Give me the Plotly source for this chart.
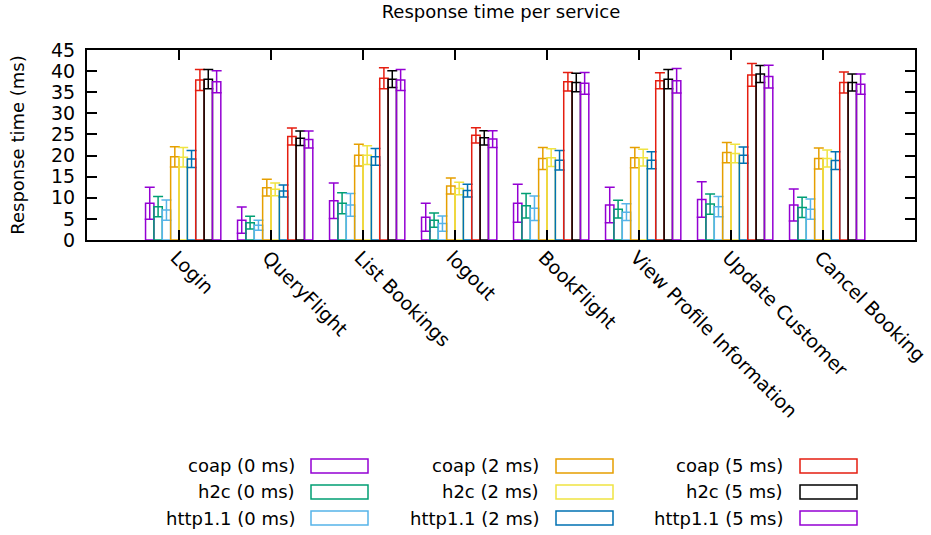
import plotly.graph_objects as go

services = ["Login", "QueryFlight", "List Bookings", "logout", "BookFlight",
            "View Profile Information", "Update Customer", "Cancel Booking"]

series_names = ["coap (0 ms)", "h2c (0 ms)", "http1.1 (0 ms)",
                "coap (2 ms)", "h2c (2 ms)", "http1.1 (2 ms)",
                "coap (5 ms)", "h2c (5 ms)", "http1.1 (5 ms)"]

# mean response time (ms) per service
coap_0 = [8.7, 4.7, 9.3, 5.4, 8.7, 8.3, 9.6, 8.3]
h2c_0 = [7.9, 4.1, 8.7, 4.7, 8.1, 7.3, 8.5, 7.7]
http_0 = [7.1, 3.5, 8.3, 3.9, 7.5, 6.6, 7.9, 7.3]
coap_2 = [19.7, 12.4, 20.1, 12.8, 19.3, 19.5, 20.7, 19.3]
h2c_2 = [19.6, 12.0, 20.1, 12.2, 19.5, 19.5, 20.5, 19.3]
http_2 = [19.2, 11.6, 19.7, 11.7, 18.9, 18.9, 20.1, 18.8]
coap_5 = [37.9, 24.5, 38.3, 24.8, 37.5, 37.7, 39.1, 37.3]
h2c_5 = [38.1, 24.1, 38.1, 24.2, 37.3, 38.1, 39.3, 37.3]
http_5 = [37.5, 23.8, 37.9, 23.9, 37.1, 37.7, 38.7, 36.9]

# standard deviation (ms) per service
coap_0_err = [3.8, 3.1, 4.2, 3.3, 4.5, 4.2, 4.2, 3.8]
h2c_0_err = [2.4, 1.5, 2.5, 1.7, 2.9, 2.1, 2.4, 2.4]
http_0_err = [2.4, 1.2, 2.7, 1.8, 2.9, 2.0, 2.4, 2.4]
coap_2_err = [2.4, 2.0, 2.6, 1.9, 2.6, 2.4, 2.4, 2.5]
h2c_2_err = [2.3, 1.5, 2.2, 1.5, 2.1, 2.0, 2.2, 2.0]
http_2_err = [2.0, 1.4, 2.0, 1.5, 2.3, 2.0, 1.9, 2.1]
coap_5_err = [2.5, 2.0, 2.5, 1.8, 2.2, 1.9, 2.7, 2.5]
h2c_5_err = [2.3, 1.7, 2.0, 1.7, 2.2, 2.3, 2.0, 2.0]
http_5_err = [2.6, 2.0, 2.5, 2.0, 2.6, 2.9, 2.7, 2.4]

y_ticks = [0, 5, 10, 15, 20, 25, 30, 35, 40, 45]

means = [coap_0, h2c_0, http_0, coap_2, h2c_2, http_2, coap_5, h2c_5, http_5]
errs = [coap_0_err, h2c_0_err, http_0_err, coap_2_err, h2c_2_err, http_2_err,
        coap_5_err, h2c_5_err, http_5_err]
colors = ["#9400D3", "#009E73", "#56B4E9", "#E69F00", "#F0E442", "#0072B2",
          "#E51E10", "#000000", "#9400D3"]

FONT = "DejaVu Sans"
W, H = 931, 535
L, R, T, B = 87, 16, 50, 295
PW, PH = W - L - R, H - T - B

n = len(series_names)
bw = 1.0 / (n + 2)  # clustered histogram, gap of 2 bar widths

fig = go.Figure()
for j in range(n):
    xs = [i + (j - n // 2) * bw + bw / 2 for i in range(len(services))]
    fig.add_trace(go.Bar(
        x=xs, y=means[j], width=bw, name=series_names[j],
        marker=dict(color="rgba(0,0,0,0)", line=dict(color=colors[j], width=1.5)),
        error_y=dict(type="data", array=errs[j], visible=True,
                     color=colors[j], thickness=1.5, width=5),
        showlegend=False,
    ))

# legend drawn as three columns: label on the left, outlined key box on the right
def px_x(px):
    return (px - L) / PW

def px_y(py):
    return (H - B - py) / PH

col_text_end = [297, 541, 785]
col_box_left = [311, 556, 800]
row_center = [466, 492, 518]
box_w, box_h = 57, 14
for j in range(n):
    c, r = j // 3, j % 3
    fig.add_annotation(
        x=px_x(col_text_end[c]), y=px_y(row_center[r]), xref="paper", yref="paper",
        text=series_names[j], showarrow=False, xanchor="right", yanchor="middle",
        font=dict(family=FONT, size=18, color="#000"),
    )
    fig.add_shape(
        type="rect", xref="paper", yref="paper",
        x0=px_x(col_box_left[c]), x1=px_x(col_box_left[c] + box_w),
        y0=px_y(row_center[r] - box_h / 2), y1=px_y(row_center[r] + box_h / 2),
        line=dict(color=colors[j], width=1.5), fillcolor="rgba(0,0,0,0)",
    )

fig.update_layout(
    width=W, height=H,
    margin=dict(l=L, r=R, t=T, b=B, autoexpand=False),
    paper_bgcolor="white", plot_bgcolor="white",
    font=dict(family=FONT, size=18, color="#000"),
    title=dict(text="Response time per service", x=(L + PW / 2) / W, xanchor="center",
               y=1 - 12 / H, yanchor="middle", yref="container",
               font=dict(family=FONT, size=18, color="#000")),
    barmode="overlay",
    xaxis=dict(
        range=[-1, len(services)], tickmode="array",
        tickvals=list(range(len(services))), ticktext=services,
        tickangle=45, ticks="inside", ticklen=10, tickwidth=1.5, tickcolor="#000",
        showline=True, linecolor="#000", linewidth=2, mirror="allticks",
        showgrid=False, zeroline=False, ticklabelshift=-3, ticklabelstandoff=-3,
        tickfont=dict(family=FONT, size=19, color="#000"),
    ),
    yaxis=dict(
        range=[0, 45], tickmode="array", tickvals=y_ticks,
        ticks="inside", ticklen=10, tickwidth=1.5, tickcolor="#000",
        showline=True, linecolor="#000", linewidth=2, mirror="allticks",
        showgrid=False, zeroline=False, ticklabelstandoff=6,
        title=dict(text="Response time (ms)", standoff=22,
                   font=dict(family=FONT, size=18, color="#000")),
        tickfont=dict(family=FONT, size=19, color="#000"),
    ),
)

fig.write_html("out.html")
